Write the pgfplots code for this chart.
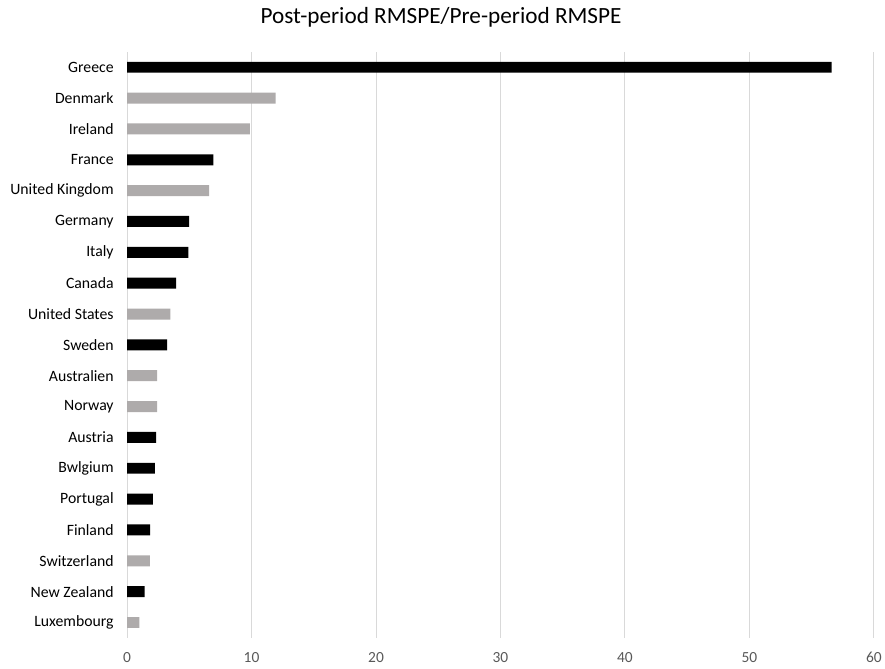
\documentclass[border=0pt]{standalone}
\usepackage{fontspec}
\setmainfont{Carlito}
\usepackage{pgfplots}
\pgfplotsset{compat=1.18}
\definecolor{barblack}{HTML}{000000}
\definecolor{bargray}{HTML}{AEABAB}
\definecolor{gridgray}{HTML}{D9D9D9}
\definecolor{ticktext}{HTML}{595959}
\begin{document}
\begin{tikzpicture}[x=1bp,y=1bp]
\begin{axis}[
  at={(0,0)}, anchor=south west,
  scale only axis,
  width=749.2bp, height=588bp,
  xbar, bar width=11bp, bar shift=0pt,
  xmin=0, xmax=60,
  ymin=-0.5, ymax=18.5,
  xtick={0,10,...,60},
  ytick={0,...,18},
  yticklabels={Luxembourg,New Zealand,Switzerland,Finland,Portugal,Bwlgium,Austria,Norway,Australien,Sweden,United States,Canada,Italy,Germany,United Kingdom,France,Ireland,Denmark,Greece},
  axis line style={draw=none},
  major tick length=0pt,
  xmajorgrids,
  grid style={gridgray, line width=0.9bp},
  /pgf/number format/assume math mode=true,
  xticklabel style={font=\fontsize{15.5bp}{18bp}\selectfont, text=ticktext, yshift=-11bp},
  yticklabel style={font=\fontsize{15.8bp}{19bp}\selectfont, text=black, xshift=-10bp},
]
\addplot[draw=none, fill=barblack] coordinates {
  (56.6,18) (6.93,15) (4.98,13) (4.92,12) (3.94,11) (3.22,9)
  (2.34,6) (2.23,5) (2.07,4) (1.86,3) (1.40,1)
};
\addplot[draw=none, fill=bargray] coordinates {
  (11.94,17) (9.86,16) (6.60,14) (3.48,10) (2.42,8) (2.42,7)
  (1.83,2) (0.98,0)
};
\end{axis}
\node[font=\fontsize{23.3bp}{27bp}\selectfont] at (315,623) {Post-period RMSPE/Pre-period RMSPE};
\useasboundingbox (-127.5,-31) rectangle (757.5,640);
\end{tikzpicture}
\end{document}
